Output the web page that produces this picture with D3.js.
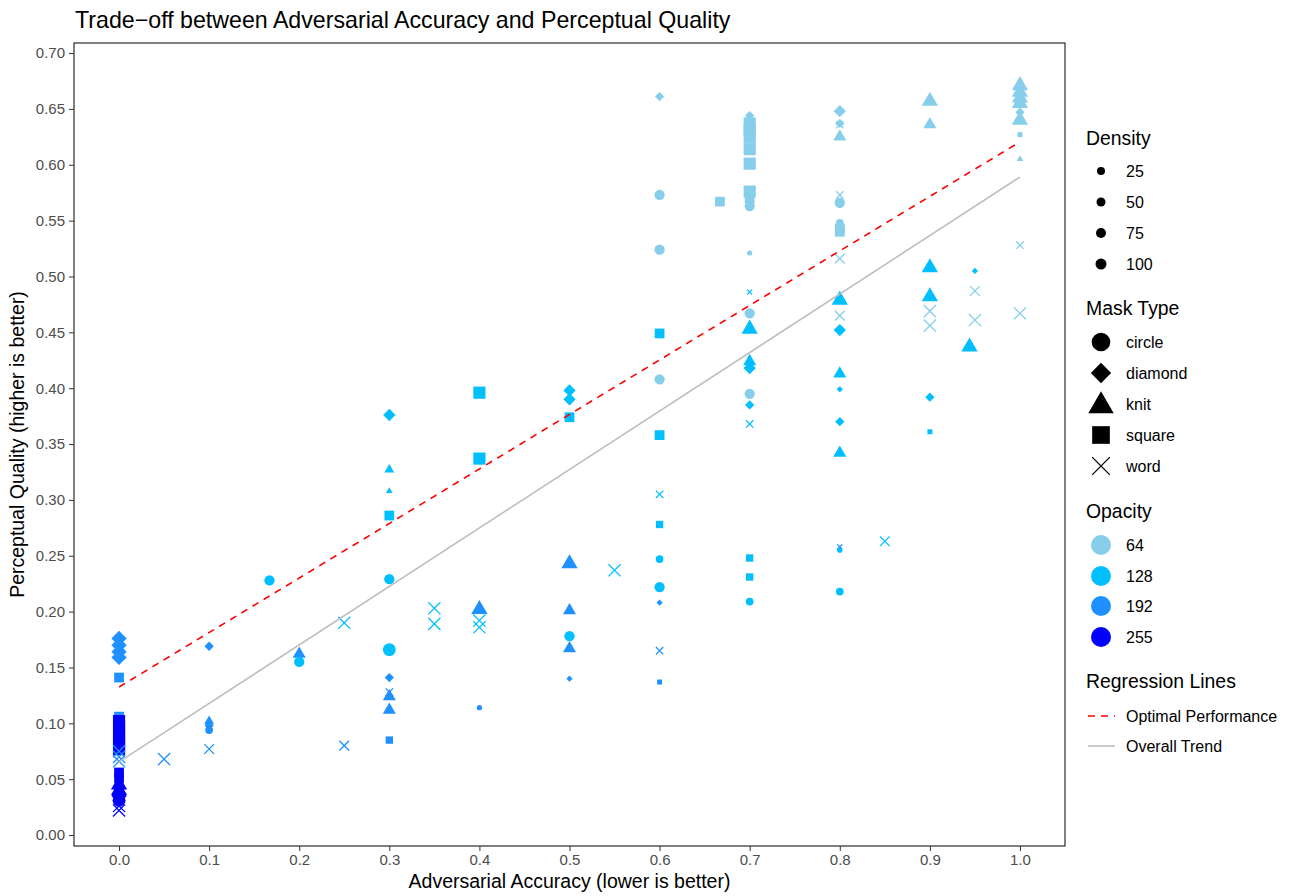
<!DOCTYPE html>
<html>
<head>
<meta charset="utf-8">
<script src="https://cdn.jsdelivr.net/npm/d3@7"></script>
<style>
  body { margin: 0; background: #fff; }
  text { font-family: "Liberation Sans", Arial, sans-serif; }
</style>
</head>
<body>
<script>
// values, one line per accuracy column
var accuracy = [
  0,0,0,0,0,0,0,0,0,0,0,0,0,0,0,0,0,0,0,0,0,0,0,
  0.05,
  0.1,0.1,0.1,0.1,0.1,
  0.167,
  0.2,0.2,
  0.25,0.25,
  0.3,0.3,0.3,0.3,0.3,0.3,0.3,0.3,0.3,0.3,0.3,
  0.35,0.35,
  0.4,0.4,0.4,0.4,0.4,0.4,
  0.5,0.5,0.5,0.5,0.5,0.5,0.5,0.5,
  0.55,
  0.6,0.6,0.6,0.6,0.6,0.6,0.6,0.6,0.6,0.6,0.6,0.6,0.6,
  0.667,
  0.7,0.7,0.7,0.7,0.7,0.7,0.7,0.7,0.7,0.7,0.7,0.7,0.7,0.7,0.7,0.7,0.7,0.7,0.7,0.7,0.7,
  0.8,0.8,0.8,0.8,0.8,0.8,0.8,0.8,0.8,0.8,0.8,0.8,0.8,0.8,0.8,0.8,0.8,0.8,0.8,0.8,
  0.85,
  0.9,0.9,0.9,0.9,0.9,0.9,0.9,0.9,
  0.944,
  0.95,0.95,0.95,
  1,1,1,1,1,1,1,1,1,1
]
var quality = [
  0.176,0.170,0.164,0.159,0.141,0.106,0.102,0.097,0.092,0.087,0.082,0.077,0.075,0.070,0.066,0.056,0.051,0.045,0.040,0.035,0.031,0.026,0.022,
  0.068,
  0.169,0.102,0.098,0.094,0.077,
  0.228,
  0.162,0.155,
  0.190,0.080,
  0.376,0.327,0.308,0.286,0.229,0.166,0.141,0.128,0.124,0.112,0.085,
  0.203,0.189,
  0.396,0.337,0.202,0.192,0.186,0.114,
  0.398,0.390,0.374,0.243,0.201,0.178,0.167,0.140,
  0.237,
  0.661,0.573,0.524,0.449,0.408,0.358,0.305,0.278,0.247,0.222,0.208,0.165,0.137,
  0.567,
  0.644,0.637,0.631,0.625,0.614,0.601,0.576,0.570,0.563,0.521,0.486,0.467,0.453,0.424,0.418,0.395,0.385,0.368,0.248,0.231,0.209,
  0.648,0.637,0.636,0.625,0.573,0.566,0.548,0.543,0.540,0.516,0.479,0.465,0.452,0.413,0.399,0.370,0.342,0.258,0.255,0.218,
  0.263,
  0.657,0.636,0.508,0.482,0.469,0.456,0.392,0.361,
  0.437,
  0.505,0.487,0.461,
  0.671,0.665,0.660,0.655,0.647,0.640,0.627,0.605,0.528,0.467
]
// c circle, d diamond, k knit, s square, w word
var mask = [
  'd','d','d','d','s','s','s','s','s','s','s','s','w','w','w','s','s','k','k','d','c','w','w',
  'w',
  'd','k','d','c','w',
  'c',
  'k','c',
  'w','w',
  'd','k','k','s','c','c','d','w','k','k','s',
  'w','w',
  's','s','k','w','w','c',
  'd','d','s','k','k','c','k','d',
  'w',
  'd','c','c','s','c','s','w','s','c','c','d','w','s',
  's',
  'd','s','s','s','s','s','s','s','c','c','w','c','k','k','d','c','d','w','s','s','c',
  'd','d','w','k','w','c','c','s','s','w','k','w','d','k','d','d','k','w','c','c',
  'w',
  'k','k','k','k','w','w','d','s',
  'k',
  'd','w','w',
  'k','k','k','k','d','k','s','k','w','w'
]
var opacity = [
  192,192,192,192,192,192,255,255,255,255,255,255,192,192,192,255,255,255,255,255,255,255,255,
  192,
  192,192,192,192,192,
  128,
  192,128,
  128,192,
  128,128,128,128,128,128,192,192,192,192,192,
  128,128,
  128,128,192,128,128,192,
  128,128,128,192,192,128,192,192,
  128,
  64,64,64,128,64,128,128,128,128,128,192,192,192,
  64,
  64,64,64,64,64,64,64,64,64,64,128,64,128,128,128,64,128,128,128,128,128,
  64,64,64,64,64,64,64,64,64,64,128,64,128,128,128,128,128,192,128,128,
  128,
  64,64,128,128,64,64,128,128,
  128,
  128,64,64,
  64,64,64,64,64,64,64,64,64,64
]
var density = [
  100,100,100,100,75,75,100,100,100,100,100,100,100,100,100,75,75,100,100,100,100,100,100,
  100,
  50,50,50,50,75,
  75,
  75,75,
  100,75,
  75,50,25,75,75,100,50,50,75,75,50,
  100,100,
  100,100,100,100,100,25,
  75,75,75,100,75,75,75,25,
  100,
  50,75,75,75,75,75,50,50,50,75,25,50,25,
  75,
  50,100,100,100,100,100,100,75,75,25,25,75,100,75,75,75,50,50,50,50,50,
  75,50,50,75,50,75,50,75,75,75,100,75,75,75,25,50,75,25,25,50,
  75,
  100,75,100,100,100,100,50,25,
  100,
  25,75,100,
  100,100,100,100,50,100,25,25,50,100
]

var maskTypes = ['circle', 'diamond', 'knit', 'square', 'word']
var maskCodes = ['c', 'd', 'k', 's', 'w']
var densityLevels = [25, 50, 75, 100]
var opacityLevels = [64, 128, 192, 255]
var opacityColors = ['#87CEEB', '#00BFFF', '#1E90FF', '#0000FF']

// regression lines, endpoints at accuracy 0 and 1
var lineNames = ['Optimal Performance', 'Overall Trend']
var lineX = [0, 1]
var optimalY = [0.1325, 0.6205]
var trendY = [0.0655, 0.589]

var xTicks = [0, 0.1, 0.2, 0.3, 0.4, 0.5, 0.6, 0.7, 0.8, 0.9, 1.0]
var yTicks = [0, 0.05, 0.1, 0.15, 0.2, 0.25, 0.3, 0.35, 0.4, 0.45, 0.5, 0.55, 0.6, 0.65, 0.7]

var W = 1290, H = 896
var panel = {left: 74, top: 43, right: 1065, bottom: 846}

var x = d3.scaleLinear().domain([-0.05, 1.05]).range([panel.left, panel.right])
var y = d3.scaleLinear().domain([-0.0098, 0.709]).range([panel.bottom, panel.top])
var color = d3.scaleOrdinal().domain(opacityLevels).range(opacityColors)
var size = d3.scaleLinear().domain([25, 100]).range([2.6, 6.4])
var shapeOf = d3.scaleOrdinal().domain(maskCodes).range(maskTypes)

// r is roughly the half width of the mark
function shapePath(shape, r) {
  if (shape === 'circle') return d3.symbol(d3.symbolCircle, Math.PI * r * r)()
  if (shape === 'diamond') return d3.symbol(d3.symbolDiamond2, Math.pow(r * 1.2 / 0.62625, 2))()
  if (shape === 'knit') return d3.symbol(d3.symbolTriangle, 2.8 * r * r)()
  if (shape === 'square') return d3.symbol(d3.symbolSquare, Math.pow(2 * r * 0.95, 2))()
  var a = r * 0.95
  return `M${-a},${-a}L${a},${a}M${-a},${a}L${a},${-a}`
}

var data = accuracy.map(function (a, i) {
  return {acc: a, q: quality[i], mask: shapeOf(mask[i]), op: opacity[i], dens: density[i]}
})

var svg = d3.select('body').append('svg')
  .attr('width', W)
  .attr('height', H)

svg.append('rect').attr('width', W).attr('height', H).attr('fill', '#fff')

// points
svg.append('g').selectAll('path')
  .data(data)
  .enter().append('path')
  .attr('transform', d => `translate(${x(d.acc)},${y(d.q)})`)
  .attr('d', d => shapePath(d.mask, size(d.dens)))
  .attr('fill', d => d.mask === 'word' ? 'none' : color(d.op))
  .attr('stroke', d => d.mask === 'word' ? color(d.op) : 'none')
  .attr('stroke-width', 1.3)

// regression lines
var line = d3.line().x(d => x(d[0])).y(d => y(d[1]))
svg.append('path')
  .attr('d', line(lineX.map((v, i) => [v, trendY[i]])))
  .attr('fill', 'none').attr('stroke', '#BEBEBE').attr('stroke-width', 1.6)
svg.append('path')
  .attr('d', line(lineX.map((v, i) => [v, optimalY[i]])))
  .attr('fill', 'none').attr('stroke', '#FF0000').attr('stroke-width', 1.6)
  .attr('stroke-dasharray', '7,6')

// panel border
svg.append('rect')
  .attr('x', panel.left).attr('y', panel.top)
  .attr('width', panel.right - panel.left).attr('height', panel.bottom - panel.top)
  .attr('fill', 'none').attr('stroke', '#000').attr('stroke-width', 1)

// axes
var xAxis = svg.append('g')
  .attr('transform', `translate(0,${panel.bottom})`)
  .call(d3.axisBottom(x).tickValues(xTicks).tickFormat(d3.format('.1f')).tickSize(5).tickPadding(3))
var yAxis = svg.append('g')
  .attr('transform', `translate(${panel.left},0)`)
  .call(d3.axisLeft(y).tickValues(yTicks).tickFormat(d3.format('.2f')).tickSize(5).tickPadding(4))
;[xAxis, yAxis].forEach(function (g) {
  g.select('.domain').remove()
  g.selectAll('line').attr('stroke', '#333333')
  g.selectAll('text').attr('fill', '#4D4D4D').style('font-size', '15px')
    .style('font-family', '"Liberation Sans", Arial, sans-serif')
})

// titles
svg.append('text').attr('x', 75).attr('y', 28)
  .style('font-size', '23.2px').text('Trade\u2212off between Adversarial Accuracy and Perceptual Quality')
svg.append('text').attr('x', (panel.left + panel.right) / 2).attr('y', 888)
  .attr('text-anchor', 'middle').style('font-size', '19.5px')
  .text('Adversarial Accuracy (lower is better)')
svg.append('text')
  .attr('transform', `translate(24,${(panel.top + panel.bottom) / 2}) rotate(-90)`)
  .attr('text-anchor', 'middle').style('font-size', '19.5px')
  .text('Perceptual Quality (higher is better)')

// legend
var lg = svg.append('g')
var keyX = 1101, labelX = 1126, titleX = 1086
function legendTitle(t, yy) {
  lg.append('text').attr('x', titleX).attr('y', yy).attr('dy', '0.35em')
    .style('font-size', '19.4px').text(t)
}
function legendLabel(t, yy) {
  lg.append('text').attr('x', labelX).attr('y', yy).attr('dy', '0.35em')
    .style('font-size', '16px').text(t)
}

legendTitle('Density', 138)
var densityKeyY = [171, 202, 233, 264]
var densityKeyR = [4, 4.5, 5, 5.5]
densityLevels.forEach(function (d, i) {
  lg.append('circle').attr('cx', keyX).attr('cy', densityKeyY[i]).attr('r', densityKeyR[i]).attr('fill', '#000')
  legendLabel(d, densityKeyY[i])
})

legendTitle('Mask Type', 308)
var maskKeyY = [342, 373, 404, 435, 466]
maskTypes.forEach(function (m, i) {
  lg.append('path')
    .attr('transform', `translate(${keyX},${maskKeyY[i] + (m === 'knit' ? 2 : 0)})`)
    .attr('d', shapePath(m, m === 'knit' ? 10 : m === 'diamond' ? 8.5 : 9.3))
    .attr('fill', m === 'word' ? 'none' : '#000')
    .attr('stroke', m === 'word' ? '#000' : 'none')
    .attr('stroke-width', 1.3)
  legendLabel(m, maskKeyY[i])
})

legendTitle('Opacity', 511)
var opacityKeyY = [545, 576, 606, 637]
opacityLevels.forEach(function (o, i) {
  lg.append('circle').attr('cx', keyX).attr('cy', opacityKeyY[i]).attr('r', 10).attr('fill', color(o))
  legendLabel(o, opacityKeyY[i])
})

legendTitle('Regression Lines', 681)
var lineKeyY = [716, 746]
lg.append('line').attr('x1', 1088).attr('x2', 1115).attr('y1', lineKeyY[0]).attr('y2', lineKeyY[0])
  .attr('stroke', '#FF0000').attr('stroke-width', 1.6).attr('stroke-dasharray', '7,6')
lg.append('line').attr('x1', 1088).attr('x2', 1115).attr('y1', lineKeyY[1]).attr('y2', lineKeyY[1])
  .attr('stroke', '#BEBEBE').attr('stroke-width', 1.6)
lineNames.forEach(function (n, i) { legendLabel(n, lineKeyY[i]) })
</script>
</body>
</html>
